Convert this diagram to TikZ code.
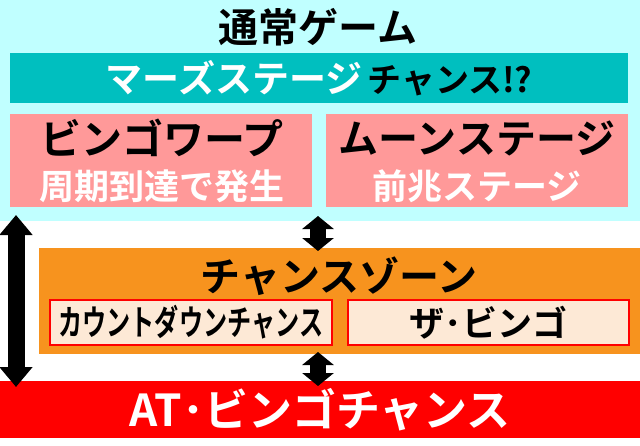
\documentclass[tikz,border=0pt]{standalone}
\usepackage{fontspec}
\usepackage{xcolor}
\newfontfamily\jp{Noto Sans CJK JP Bold}
\usepackage{tikz}
\usetikzlibrary{arrows.meta,positioning}
\definecolor{bgcyan}{HTML}{C0FFFF}
\definecolor{marsteal}{HTML}{00BFBF}
\definecolor{warppink}{HTML}{FF9999}
\definecolor{zoneorange}{HTML}{F7931E}
\definecolor{subcream}{HTML}{FDE9D6}
\definecolor{atred}{HTML}{FF0000}
\newcommand\jpsize[1]{\fontsize{#1}{#1}\selectfont\jp}

\begin{document}
\begin{tikzpicture}[x=1pt,y=-1pt,
 panel/.style={inner sep=0,anchor=north west,align=center},
 txt/.style={inner sep=0,align=center},
 subbox/.style={panel,fill=subcream,draw=atred,line width=1.5pt,minimum height=45pt},
 bigarrow/.style={line width=17pt,{Triangle[length=20pt,width=32pt]}-{Triangle[length=20pt,width=32pt]}},
 smallarrow/.style={line width=16pt,{Triangle[length=13pt,width=31pt]}-{Triangle[length=13pt,width=31pt]}}]
 \useasboundingbox (0,0) rectangle (640,445);
 % normal game area
 \node[panel,fill=bgcyan,minimum width=640pt,minimum height=221pt] (normal) at (0,0) {};
 \node[txt] (title) at (318,27) {\jpsize{40}通常ゲーム};
 \node[panel,fill=marsteal,minimum width=618pt,minimum height=50pt] (mars) at (10,53)
  {\jpsize{37}\textcolor{white}{マーズステージ}\hspace{5pt}\jpsize{34}チャンス!?};
 \node[panel,fill=warppink,minimum width=302pt,minimum height=93pt] (warp) at (10,114) {};
 \node[panel,fill=warppink,minimum width=302pt,minimum height=93pt] (moon) at (326,114) {};
 \node[txt] (warptitle) at (162,138) {\jpsize{41}ビンゴワープ};
 \node[txt,text=white] (warpsub) at (162,186) {\jpsize{35}周期到達で発生};
 \node[txt] (moontitle) at (477,138) {\jpsize{40}ムーンステージ};
 \node[txt,text=white] (moonsub) at (477,186) {\jpsize{35}前兆ステージ};
 % chance zone
 \node[panel,fill=zoneorange,minimum width=601pt,minimum height=106pt] (zone) at (39,248) {};
 \node[txt] (zonetitle) at (339,276) {\jpsize{40}チャンスゾーン};
 \node[subbox,minimum width=282pt] (countdown) at (49,299) {\jpsize{35}\scalebox{0.69}[1]{カウントダウンチャンス}};
 \node[subbox,minimum width=281pt] (thebingo) at (347,299) {\jpsize{35}ザ･ビンゴ};
 % AT
 \node[panel,fill=atred,text=white,minimum width=640pt,minimum height=57pt] (at) at (0,381) {\jpsize{44}AT･ビンゴチャンス};
 % arrows
 \coordinate (longtop) at (16,215);
 \coordinate (longbot) at (16,387);
 \coordinate (uptop) at (318,216);
 \coordinate (upbot) at (318,251);
 \coordinate (lowtop) at (318,352);
 \coordinate (lowbot) at (318,386);
 \draw[bigarrow] (longtop) -- (longbot);
 \draw[smallarrow] (uptop) -- (upbot);
 \draw[smallarrow] (lowtop) -- (lowbot);
\end{tikzpicture}
\end{document}
